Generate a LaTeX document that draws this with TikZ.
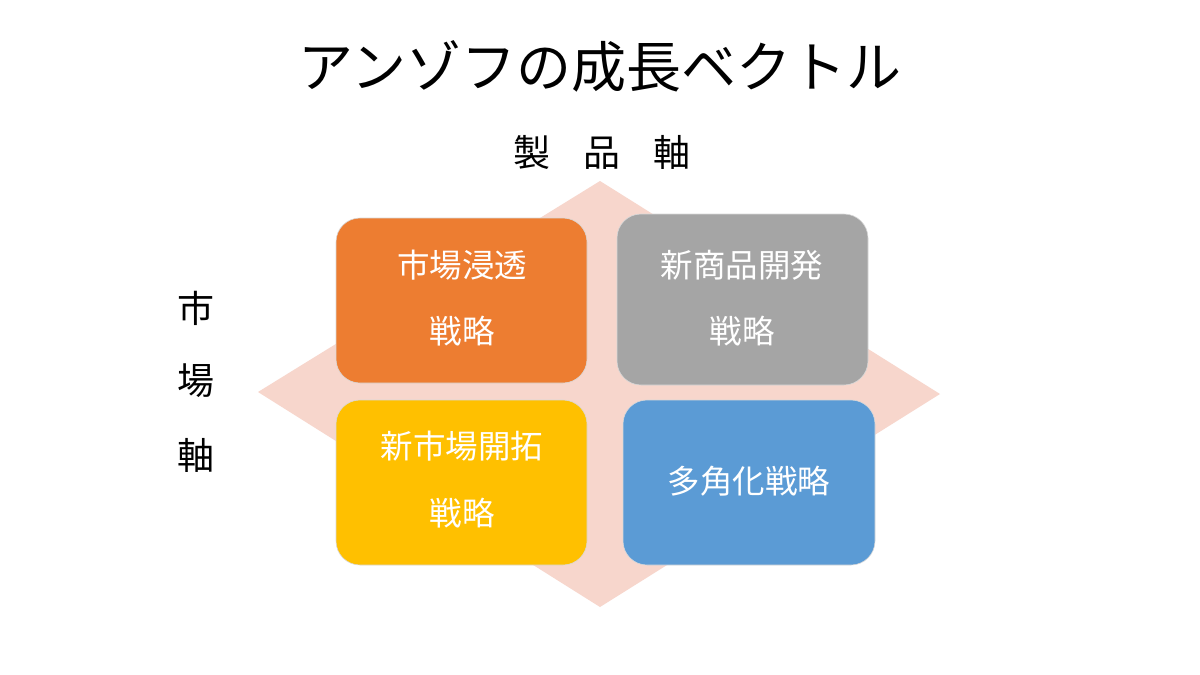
\documentclass[tikz,border=0pt]{standalone}
\usepackage{fontspec}
\newfontfamily\jp{Noto Sans CJK JP}
\definecolor{diam}{HTML}{F7D6CC}
\definecolor{orng}{HTML}{ED7D31}
\definecolor{gry}{HTML}{A5A5A5}
\definecolor{ylw}{HTML}{FFC000}
\definecolor{blu}{HTML}{5B9BD5}
\begin{document}
\begin{tikzpicture}[x=1pt,y=-1pt,
  quad/.style={draw=white!85!black, line width=0.6pt, rounded corners=24pt},
  qtext/.style={text=white, font=\jp\fontsize{32.5}{38}\selectfont, align=center},
  lbl/.style={font=\jp\fontsize{37}{42}\selectfont, text=black}]
\useasboundingbox (0,0) rectangle (1200,675);
\fill[white] (0,0) rectangle (1200,675);
\node[font=\jp\fontsize{55}{62}\selectfont] (title) at (600,66) {アンゾフの成長ベクトル};
\node[lbl] (prod) at (602,152) {製\hspace{0.9em}品\hspace{0.9em}軸};
\node[lbl] (mkt1) at (196,308) {市};
\node[lbl] (mkt2) at (196,381) {場};
\node[lbl] (mkt3) at (196,455) {軸};
\fill[diam] (600,181) coordinate (dt) -- (940,394) coordinate (dr) -- (600,607) coordinate (db) -- (258,392) coordinate (dl) -- cycle;
\draw[quad, fill=orng] (336,218) rectangle (587,383);
\draw[quad, fill=gry] (617,214) rectangle (868,385);
\draw[quad, fill=ylw] (336,400) rectangle (587,565);
\draw[quad, fill=blu] (623,400) rectangle (875,565);
\node[qtext] (a1) at (462,265) {市場浸透};
\node[qtext] (a2) at (462,331) {戦略};
\node[qtext] (b1) at (742,265) {新商品開発};
\node[qtext] (b2) at (742,331) {戦略};
\node[qtext] (c1) at (462,446) {新市場開拓};
\node[qtext] (c2) at (462,513) {戦略};
\node[qtext] (d1) at (749,481) {多角化戦略};
\end{tikzpicture}
\end{document}
